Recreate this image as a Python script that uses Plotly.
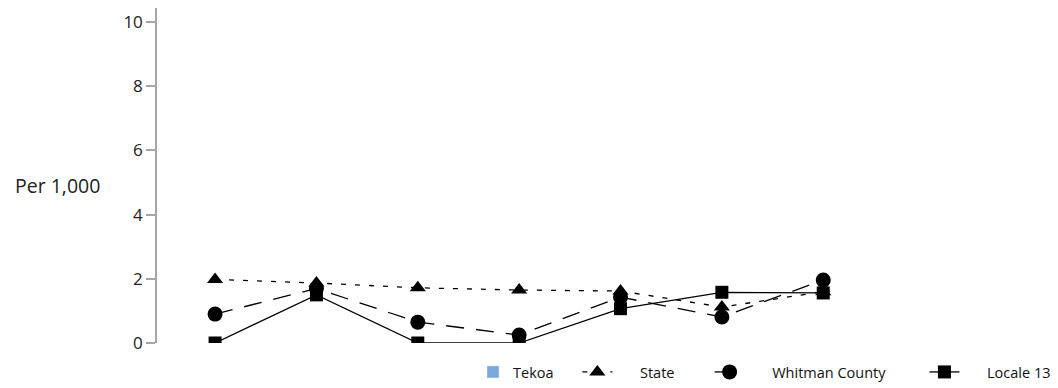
import plotly.graph_objects as go

categories = [0, 1, 2, 3, 4, 5, 6]
tekoa = [None, None, None, None, None, None, None]
state = [1.98, 1.87, 1.72, 1.65, 1.62, 1.12, 1.6]
whitman = [0.9, 1.7, 0.65, 0.25, 1.43, 0.81, 1.96]
locale13 = [0.0, 1.5, 0.0, 0.0, 1.07, 1.58, 1.56]
y_ticks = [0, 2, 4, 6, 8, 10]

NB = "\u00a0"
fig = go.Figure()
fig.add_trace(go.Bar(x=categories, y=tekoa, name="Tekoa" + NB * 5, marker_color="#7ba7dc"))
fig.add_trace(go.Scatter(x=categories, y=state, name=NB * 6 + "State" + NB * 8,
                         mode="lines+markers",
                         line=dict(color="black", width=1.3, dash="5px,9px"),
                         marker=dict(symbol="triangle-up", size=14, color="black")))
fig.add_trace(go.Scatter(x=categories, y=whitman, name=NB * 6 + "Whitman County" + NB * 9,
                         mode="lines+markers",
                         line=dict(color="black", width=1.3, dash="18px,12px"),
                         marker=dict(symbol="circle", size=15, color="black")))
fig.add_trace(go.Scatter(x=categories, y=locale13, name=NB * 6 + "Locale 13",
                         mode="lines+markers",
                         line=dict(color="black", width=1.3),
                         marker=dict(symbol="square", size=13, color="black")))

W, H = 1050, 380
fig.update_layout(
    width=W, height=H,
    margin=dict(l=149, r=178, t=0, b=45, autoexpand=False),
    plot_bgcolor="white", paper_bgcolor="white",
    font=dict(family="Open Sans", size=15, color="#222"),
    showlegend=True,
    legend=dict(orientation="h", xref="container", yref="container",
                x=465 / W, xanchor="left", y=0.0, yanchor="bottom",
                font=dict(family="Open Sans", size=14.5, color="#111"),
                traceorder="normal", itemwidth=30),
    xaxis=dict(range=[-0.573, 6.56], showticklabels=False, showgrid=False,
               zeroline=False, showline=False, ticks=""),
    yaxis=dict(range=[0, 10.44], tickvals=y_ticks, showgrid=False, zeroline=False,
               showline=True, linecolor="#a6a6a6", linewidth=1.5,
               ticks="outside", ticklen=9, tickcolor="#a6a6a6", tickwidth=1.5,
               tickfont=dict(family="Open Sans", size=17, color="#222")),
    annotations=[dict(text="Per 1,000", xref="paper", yref="paper",
                      x=(94 - 149) / 723, y=(335 - 177) / 335,
                      xanchor="right", yanchor="middle", showarrow=False,
                      font=dict(family="Open Sans", size=19.5, color="#222"))],
)

fig.write_html("out.html")
